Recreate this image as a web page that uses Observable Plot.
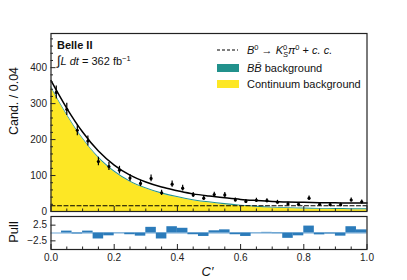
<!DOCTYPE html>
<html><head><meta charset="utf-8">
<script src="https://cdn.jsdelivr.net/npm/d3@7"></script>
<script src="https://cdn.jsdelivr.net/npm/@observablehq/plot@0.6"></script>
<style>
body{margin:0;background:#fff;}
#wrap{position:relative;width:407px;height:280px;font-family:"Liberation Sans",Arial,sans-serif;}
#wrap svg{position:absolute;left:0;overflow:visible;}
</style></head><body><div id="wrap"></div>
<script>
// ---- data ----
const nBins = 30;                 // bins over C' in [0,1]
const counts = [331,284,226,196,139,125,115,93,78,92,52,76,65,46,37,47,46,32,28,31,30,26,21,20,37,20,19,19,32,27];
const pulls  = [0.0,0.6,-0.3,0.6,-1.9,-0.9,-0.1,-0.55,-1.0,1.8,-1.9,2.0,1.5,-0.55,-1.1,0.7,1.0,-0.55,-1.1,0.1,0.2,-0.2,-1.7,-0.9,2.2,-0.6,-0.3,-1.0,2.0,1.0];
const curveX     = [0,0.05,0.1,0.15,0.2,0.25,0.3,0.35,0.4,0.45,0.5,0.55,0.6,0.65,0.7,0.75,0.8,0.85,0.9,0.95,1.0];
const continuum  = [345,268,202,149,110,82,63,49,39,30,24,19,15,12,9.5,8,7,6,5.5,5,5];
const bbBkg      = [3,3,3,3,3,3,3,3,3,3,3,3,2.5,2.5,2.5,2.5,2.5,2.5,2.5,2.5,2.5];
const signal     = [16,16,16,16,16,16,16,16,16,16,16,16,16,16,16,16,16,16,16,16,16];
const yMajor = [0,100,200,300,400];
const yMinor = [20,40,60,80,120,140,160,180,220,240,260,280,320,340,360,380,420,440,460,480];
const xMajor = [0,0.2,0.4,0.6,0.8,1.0];
const xMinor = [0.05,0.1,0.15,0.25,0.3,0.35,0.45,0.5,0.55,0.65,0.7,0.75,0.85,0.9,0.95];
const pullTicks = [-2.5,2.5];

// ---- tables ----
const bw = 1 / nBins;
const pts = counts.map((n, i) => ({x: (i + 0.5) * bw, n, lo: n - Math.sqrt(n), hi: n + Math.sqrt(n)}));
const pullRows = pulls.map((p, i) => ({x1: i * bw, x2: (i + 1) * bw, p}));
const curveRows = curveX.map((x, i) => ({
  x, cont: continuum[i], contbb: continuum[i] + bbBkg[i], sig: signal[i],
  total: continuum[i] + bbBkg[i] + signal[i]
}));

const FONT = '"Liberation Sans",Arial,sans-serif';
const W = 407, ML = 50.5, MR = 40.5;
const frameColor = "#222";

const main = Plot.plot({
  width: W, height: 215,
  marginLeft: ML, marginRight: MR, marginTop: 33, marginBottom: 4,
  style: {fontFamily: FONT, fontSize: "10px", background: "transparent", color: "#222"},
  x: {domain: [0, 1]},
  y: {domain: [0, 495]},
  marks: [
    Plot.areaY(curveRows, {x: "x", y1: 0, y2: "cont", fill: "#fde725", curve: "monotone-x"}),
    Plot.areaY(curveRows, {x: "x", y1: "cont", y2: "contbb", fill: "#21918c", curve: "monotone-x"}),
    Plot.lineY(curveRows, {x: "x", y: "sig", stroke: "black", strokeWidth: 1.2, strokeDasharray: "4,2.5"}),
    Plot.lineY(curveRows, {x: "x", y: "total", stroke: "black", strokeWidth: 1.5, curve: "monotone-x"}),
    Plot.ruleX(pts, {x: "x", y1: "lo", y2: "hi", stroke: "black", strokeWidth: 1.2}),
    Plot.dot(pts, {x: "x", y: "n", r: 1.6, fill: "black"}),
    Plot.axisY(yMajor, {tickSize: 0, tickPadding: 4, label: null, fontSize: 10}),
    Plot.axisY(yMajor, {tickSize: -5, tickFormat: () => "", label: null, stroke: frameColor}),
    Plot.axisY(yMinor, {tickSize: -2.5, tickFormat: () => "", label: null, stroke: frameColor}),
    Plot.axisX(xMajor, {tickSize: -5, tickFormat: () => "", label: null, stroke: frameColor}),
    Plot.axisX(xMinor, {tickSize: -2.5, tickFormat: () => "", label: null, stroke: frameColor}),
    Plot.frame({stroke: frameColor, strokeWidth: 1.2})
  ]
});
main.style.top = "0px";

const pull = Plot.plot({
  width: W, height: 69,
  marginLeft: ML, marginRight: MR, marginTop: 5, marginBottom: 31,
  style: {fontFamily: FONT, fontSize: "10px", background: "transparent", color: "#222"},
  x: {domain: [0, 1]},
  y: {domain: [-5.25, 5.25]},
  marks: [
    Plot.ruleY([0], {stroke: "#9cc3e3", strokeWidth: 1.5}),
    Plot.rect(pullRows, {x1: "x1", x2: "x2", y1: 0, y2: "p", fill: "#2b7bba"}),
    Plot.axisY(pullTicks, {tickSize: 0, tickPadding: 4, label: null, fontSize: 10, tickFormat: d3.format(".1f")}),
    Plot.axisY(pullTicks, {tickSize: -5, tickFormat: () => "", label: null, stroke: frameColor}),
    Plot.axisX(xMajor, {tickSize: 0, tickPadding: 4, label: null, fontSize: 10, tickFormat: d3.format(".1f")}),
    Plot.axisX(xMajor, {tickSize: -5, tickFormat: () => "", label: null, stroke: frameColor}),
    Plot.axisX(xMinor, {tickSize: -2.5, tickFormat: () => "", label: null, stroke: frameColor}),
    Plot.frame({stroke: frameColor, strokeWidth: 1.2})
  ]
});
pull.style.top = "211px";

const wrap = document.getElementById("wrap");
wrap.appendChild(main);
wrap.appendChild(pull);

// ---- annotations ----
const ms = d3.select(main);
const g = ms.append("g").attr("font-family", FONT).attr("fill", "#111").attr("text-anchor", "start");
// y label
g.append("text").attr("transform", "translate(18,101) rotate(-90)").attr("text-anchor", "middle")
  .attr("font-size", 12.5).text("Cand. / 0.04");
// Belle II
g.append("text").attr("x", 57).attr("y", 49).attr("font-size", 11).attr("font-weight", "bold").text("Belle II");
const lum = g.append("text").attr("x", 57).attr("y", 65).attr("font-size", 11);
lum.append("tspan").attr("font-size", 13).text("\u222B");
lum.append("tspan").attr("font-style", "italic").text("L");
lum.append("tspan").text(" ");
lum.append("tspan").attr("font-style", "italic").text("dt");
lum.append("tspan").text(" = 362 fb");
lum.append("tspan").attr("font-size", 7.5).attr("dy", -4).text("\u22121");

// legend
g.append("line").attr("x1", 217).attr("x2", 238).attr("y1", 50).attr("y2", 50)
  .attr("stroke", "black").attr("stroke-width", 1.2).attr("stroke-dasharray", "3,2");
const t1 = g.append("text").attr("x", 247).attr("y", 54).attr("font-size", 11);
t1.append("tspan").attr("font-style", "italic").text("B");
t1.append("tspan").attr("font-size", 7.5).attr("dy", -4).text("0");
t1.append("tspan").attr("dy", 4).text(" \u2192 ");
t1.append("tspan").attr("font-style", "italic").text("K");
t1.append("tspan").attr("font-size", 7.5).attr("dy", -4).text("0");
t1.append("tspan").attr("font-size", 7.5).attr("font-style", "italic").attr("dx", -4.2).attr("dy", 7).text("S");
t1.append("tspan").attr("font-style", "italic").attr("dy", -3).text("\u03C0");
t1.append("tspan").attr("font-size", 7.5).attr("dy", -4).text("0");
t1.append("tspan").attr("dy", 4).text(" + ");
t1.append("tspan").attr("font-style", "italic").text("c. c.");

g.append("rect").attr("x", 217).attr("y", 64).attr("width", 22).attr("height", 8).attr("fill", "#21918c");
const t2 = g.append("text").attr("x", 247).attr("y", 72).attr("font-size", 11);
t2.append("tspan").attr("font-style", "italic").text("BB\u0304");
t2.append("tspan").text(" background");

g.append("rect").attr("x", 217).attr("y", 80).attr("width", 22).attr("height", 8).attr("fill", "#fde725");
g.append("text").attr("x", 247).attr("y", 88).attr("font-size", 11).text("Continuum background");

// pull panel labels
const ps = d3.select(pull);
const g2 = ps.append("g").attr("font-family", FONT).attr("fill", "#111");
g2.append("text").attr("transform", "translate(18,21) rotate(-90)").attr("text-anchor", "middle")
  .attr("font-size", 13).text("Pull");
g2.append("text").attr("x", 207.5).attr("y", 65).attr("text-anchor", "middle")
  .attr("font-size", 13).attr("font-style", "italic").text("C\u2032");
</script>
</body></html>
